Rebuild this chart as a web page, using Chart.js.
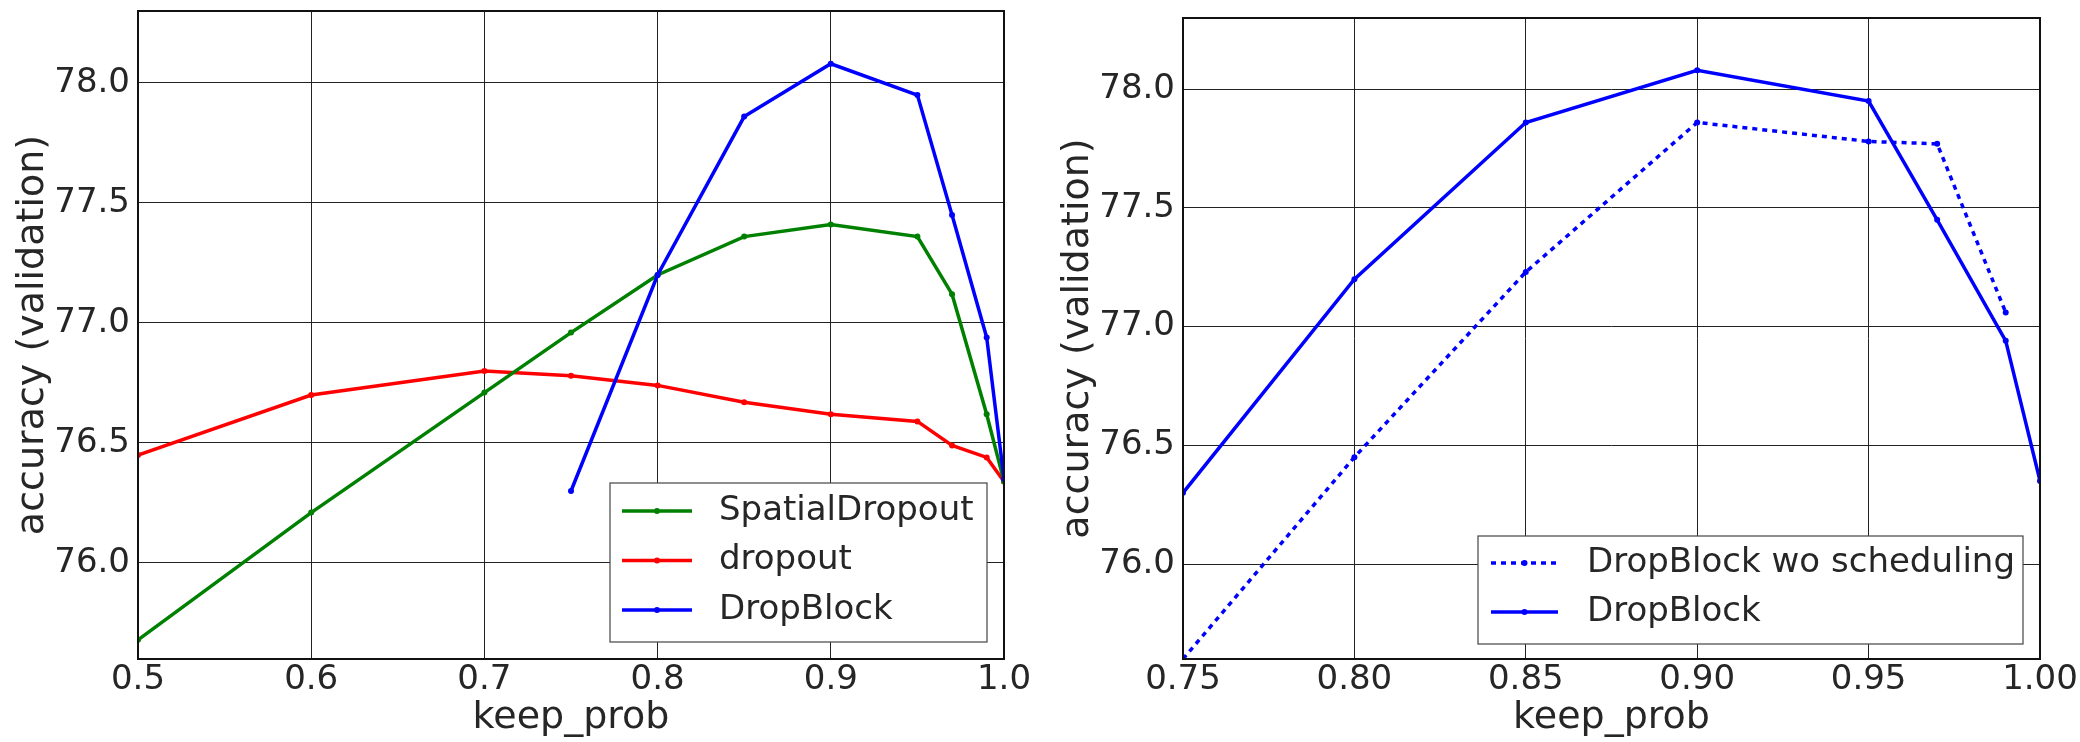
<!DOCTYPE html>
<html>
<head>
<meta charset="utf-8">
<script src="https://cdn.jsdelivr.net/npm/chart.js@4.4.1/dist/chart.umd.min.js"></script>
<style>
  html, body { margin: 0; padding: 0; background: #fff; overflow: hidden; width: 2080px; height: 742px; }
  .panel { position: absolute; top: -40px; }
</style>
</head>
<body>
<div class="panel" style="left:0"><canvas id="chartLeft" width="1040" height="782"></canvas></div>
<div class="panel" style="left:1040px"><canvas id="chartRight" width="1100" height="782"></canvas></div>
<script>
// left panel: keep_prob sweep for the three methods
const keepProbAll = [0.5, 0.6, 0.7, 0.75, 0.8, 0.85, 0.9, 0.95, 0.97, 0.99, 1.0];
const spatialDropoutAcc = [75.68, 76.21, 76.71, 76.96, 77.20, 77.36, 77.41, 77.36, 77.12, 76.62, 76.34];
const dropoutAcc = [76.45, 76.70, 76.80, 76.78, 76.74, 76.67, 76.62, 76.59, 76.49, 76.44, 76.34];

const keepProbDropBlock = [0.75, 0.8, 0.85, 0.9, 0.95, 0.97, 0.99, 1.0];
const dropBlockAcc = [76.30, 77.20, 77.86, 78.08, 77.95, 77.45, 76.94, 76.35];

// right panel: DropBlock without scheduling
const keepProbNoSched = [0.75, 0.8, 0.85, 0.9, 0.95, 0.97, 0.99];
const dropBlockNoSchedAcc = [75.60, 76.45, 77.23, 77.86, 77.78, 77.77, 77.06];

const yTicks = [76.0, 76.5, 77.0, 77.5, 78.0];
const xTicksLeft = [0.5, 0.6, 0.7, 0.8, 0.9, 1.0];
const xTicksRight = [0.75, 0.80, 0.85, 0.90, 0.95, 1.00];

const FONT = "'DejaVu Sans', sans-serif";
const TEXT = '#262626';

function toPoints(xs, ys) {
  return xs.map((x, i) => ({ x: x, y: ys[i] }));
}

function lineSet(label, xs, ys, color, order, dash) {
  return {
    label: label,
    data: toPoints(xs, ys),
    borderColor: color,
    backgroundColor: color,
    borderWidth: 3.5,
    borderDash: dash || [],
    pointRadius: 3,
    pointBorderWidth: 0,
    pointHoverRadius: 3,
    tension: 0,
    order: order
  };
}

// frame around the plot + boxed legend inside the plot
const frameLegend = {
  id: 'frameLegend',
  afterDatasetsDraw(chart, args, opts) {
    const ctx = chart.ctx;
    const a = chart.chartArea;
    ctx.save();
    ctx.strokeStyle = '#111';
    ctx.lineWidth = 2;
    ctx.strokeRect(a.left, a.top, a.right - a.left, a.bottom - a.top);

    const b = opts.box;
    ctx.fillStyle = '#fff';
    ctx.fillRect(b.x, b.y, b.w, b.h);
    ctx.strokeStyle = '#444';
    ctx.lineWidth = 1.2;
    ctx.strokeRect(b.x, b.y, b.w, b.h);

    const rows = opts.order.map(i => chart.data.datasets[i]);
    rows.forEach((ds, i) => {
      const y = b.y + opts.firstRow + i * opts.rowGap;
      ctx.strokeStyle = ds.borderColor;
      ctx.lineWidth = ds.borderWidth;
      ctx.setLineDash(ds.borderDash);
      ctx.beginPath();
      ctx.moveTo(b.x + opts.lineX0, y);
      ctx.lineTo(b.x + opts.lineX1, y);
      ctx.stroke();
      ctx.setLineDash([]);
      ctx.fillStyle = ds.borderColor;
      ctx.beginPath();
      ctx.arc(b.x + (opts.lineX0 + opts.lineX1) / 2, y, 3, 0, Math.PI * 2);
      ctx.fill();
      ctx.fillStyle = TEXT;
      ctx.font = '34px ' + FONT;
      ctx.textBaseline = 'middle';
      ctx.textAlign = 'left';
      ctx.fillText(ds.label, b.x + opts.textX, y);
    });
    ctx.restore();
  }
};

function axisOptions(xTicks, xMin, xMax, xDigits, yAxisWidth, yTitlePad) {
  return {
    x: {
      type: 'linear',
      min: xMin,
      max: xMax,
      afterBuildTicks: scale => { scale.ticks = xTicks.map(v => ({ value: v })); },
      afterFit: scale => { scale.height = 83; },
      ticks: {
        maxRotation: 0,
        autoSkip: false,
        padding: 1,
        color: TEXT,
        font: { family: FONT, size: 34 },
        callback: v => Number(v).toFixed(xDigits)
      },
      grid: { color: '#222', lineWidth: 1, drawTicks: false },
      border: { display: false },
      title: {
        display: true,
        text: 'keep_prob',
        color: TEXT,
        font: { family: FONT, size: 38 },
        padding: { top: 0, bottom: 1 }
      }
    },
    y: {
      type: 'linear',
      min: 75.6,
      max: 78.3,
      afterBuildTicks: scale => { scale.ticks = yTicks.map(v => ({ value: v })); },
      afterFit: scale => { scale.width = yAxisWidth; },
      ticks: {
        padding: 8,
        color: TEXT,
        font: { family: FONT, size: 34 },
        callback: v => Number(v).toFixed(1)
      },
      grid: { color: '#222', lineWidth: 1, drawTicks: false },
      border: { display: false },
      title: {
        display: true,
        text: 'accuracy (validation)',
        color: TEXT,
        font: { family: FONT, size: 38 },
        padding: { top: yTitlePad, bottom: 0 }
      }
    }
  };
}

const baseOptions = {
  responsive: false,
  devicePixelRatio: 1,
  animation: false,
  events: [],
  plugins: { legend: { display: false }, tooltip: { enabled: false } }
};

new Chart(document.getElementById('chartLeft'), {
  type: 'line',
  data: {
    datasets: [
      lineSet('SpatialDropout', keepProbAll, spatialDropoutAcc, '#008000', 1),
      lineSet('dropout', keepProbAll, dropoutAcc, '#ff0000', 2),
      lineSet('DropBlock', keepProbDropBlock, dropBlockAcc, '#0000ff', 0)
    ]
  },
  options: {
    ...baseOptions,
    layout: { padding: { top: 51, right: 36, left: 0, bottom: 0 } },
    scales: axisOptions(xTicksLeft, 0.5, 1.0, 1, 138, 10),
    plugins: {
      ...baseOptions.plugins,
      frameLegend: {
        box: { x: 610, y: 523, w: 377, h: 159 },
        order: [0, 1, 2],
        firstRow: 28, rowGap: 49.5,
        lineX0: 12, lineX1: 82, textX: 109
      }
    }
  },
  plugins: [frameLegend]
});

new Chart(document.getElementById('chartRight'), {
  type: 'line',
  data: {
    datasets: [
      lineSet('DropBlock wo scheduling', keepProbNoSched, dropBlockNoSchedAcc, '#0000ff', 1, [5, 5]),
      lineSet('DropBlock', keepProbDropBlock, dropBlockAcc, '#0000ff', 0)
    ]
  },
  options: {
    ...baseOptions,
    layout: { padding: { top: 58, right: 100, left: 0, bottom: 0 } },
    scales: axisOptions(xTicksRight, 0.75, 1.0, 2, 143, 15),
    plugins: {
      ...baseOptions.plugins,
      frameLegend: {
        box: { x: 438, y: 576, w: 545, h: 108 },
        order: [0, 1],
        firstRow: 27, rowGap: 49,
        lineX0: 13, lineX1: 80, textX: 109
      }
    }
  },
  plugins: [frameLegend]
});
</script>
</body>
</html>
